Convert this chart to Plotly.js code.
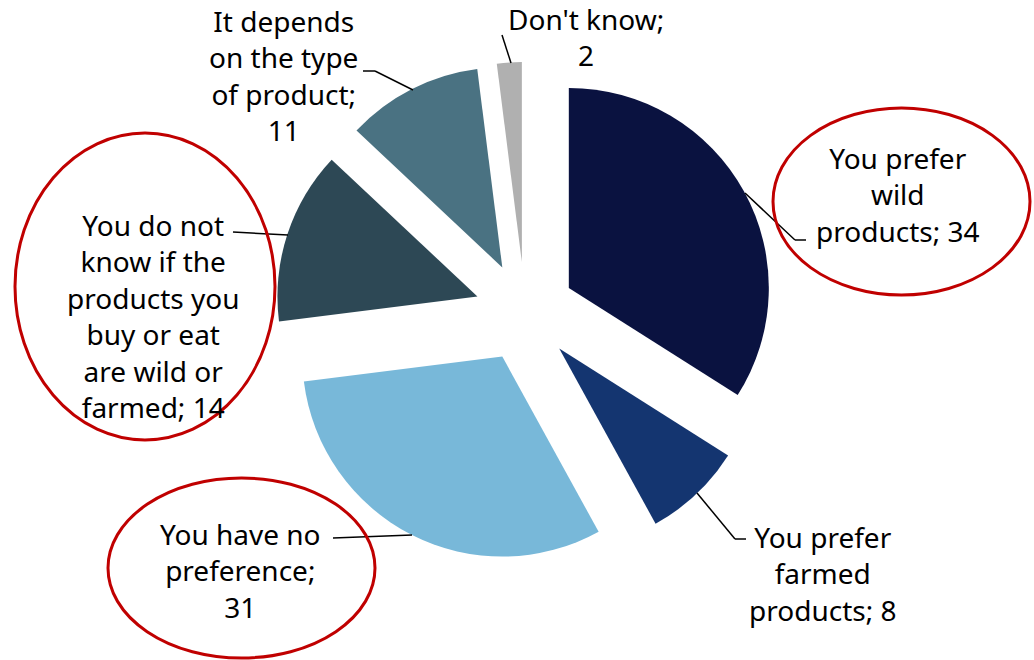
<!DOCTYPE html>
<html>
<head>
<meta charset="utf-8">
<script src="https://cdn.plot.ly/plotly-3.0.1.min.js"></script>
<style>html,body{margin:0;padding:0;background:#fff;}#chart{width:1034px;height:660px;}</style>
</head>
<body>
<div id="chart"></div>
<script>
// Data
const categories = [
  "You prefer wild products",
  "You prefer farmed products",
  "You have no preference",
  "You do not know if the products you buy or eat are wild or farmed",
  "It depends on the type of product",
  "Don't know"
];
const values = [34, 8, 31, 14, 11, 2];
const labelTexts = [
  "You prefer<br>wild<br>products; 34",
  "You prefer<br>farmed<br>products; 8",
  "You have no<br>preference;<br>31",
  "You do not<br>know if the<br>products you<br>buy or eat<br>are wild or<br>farmed; 14",
  "It depends<br>on the type<br>of product;<br>11",
  "Don't know;<br>2"
];
const colors = ["#0a1240", "#143570", "#78b8d9", "#2d4855", "#4a7282", "#b0b0b0"];

const W = 1034, H = 660;
const px = x => x / W;
const py = y => 1 - y / H;

// label positions (pixel centres)
const labelPos = [[897,194],[822,573],[240,570],[153,316],[283,75],[586,37]];
// leader lines (pixel polylines)
const leaders = [
  [[745,193],[795,240],[806,240]],
  [[697,493],[735,539],[746,539]],
  [[412,535],[333,538]],
  [[288,235],[233,232]],
  [[413,90],[375,71],[363,71]],
  [[511,63],[502,35]]
];
// red ellipses (pixel bounds)
const ellipses = [
  [773,108,1030,295],
  [15,133,275,440],
  [108,478,375,658]
];

const font = {family: "Century Gothic, 'Noto Sans', sans-serif", size: 28, color: "#000"};

const trace = {
  type: "pie",
  labels: categories,
  values: values,
  marker: {colors: colors, line: {width: 0}},
  sort: false,
  direction: "clockwise",
  rotation: 0,
  pull: values.map(() => 0.25),
  textinfo: "none",
  hoverinfo: "label+value",
  domain: {x: [px(275), px(775)], y: [py(562), py(62)]},
  showlegend: false
};

const shapes = [];
leaders.forEach(pts => {
  for (let i = 0; i < pts.length - 1; i++) {
    shapes.push({type: "line", xref: "paper", yref: "paper",
      x0: px(pts[i][0]), y0: py(pts[i][1]), x1: px(pts[i+1][0]), y1: py(pts[i+1][1]),
      line: {color: "#000", width: 1.5}});
  }
});
ellipses.forEach(e => {
  shapes.push({type: "circle", xref: "paper", yref: "paper",
    x0: px(e[0]), y0: py(e[3]), x1: px(e[2]), y1: py(e[1]),
    line: {color: "#c00000", width: 3}});
});

const annotations = labelTexts.map((t, i) => ({
  text: t, xref: "paper", yref: "paper",
  x: px(labelPos[i][0]), y: py(labelPos[i][1]),
  xanchor: "center", yanchor: "middle", showarrow: false,
  align: "center", font: font
}));

const layout = {
  width: W, height: H,
  margin: {l: 0, r: 0, t: 0, b: 0},
  paper_bgcolor: "#fff",
  plot_bgcolor: "#fff",
  shapes: shapes,
  annotations: annotations,
  showlegend: false
};

Plotly.newPlot("chart", [trace], layout, {displayModeBar: false, staticPlot: true});
</script>
</body>
</html>
